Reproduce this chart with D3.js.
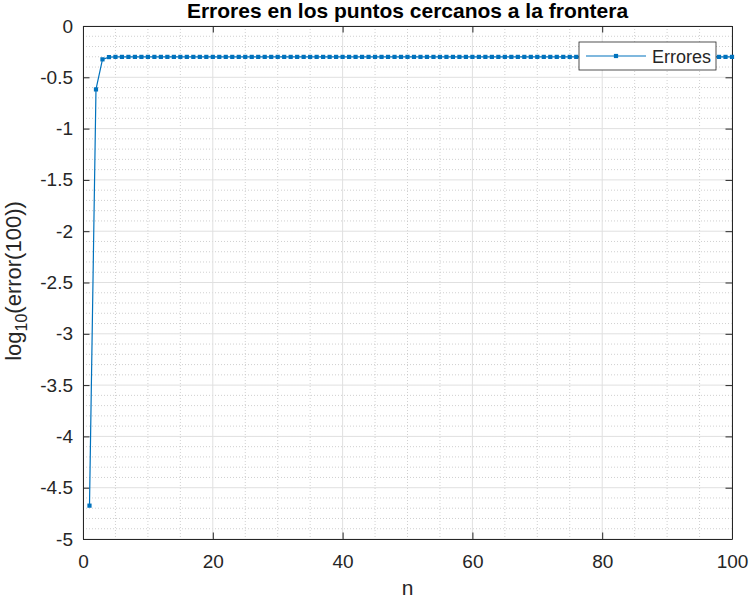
<!DOCTYPE html>
<html>
<head>
<meta charset="utf-8">
<script src="https://cdn.jsdelivr.net/npm/d3@7"></script>
<style>
  body { margin: 0; background: #fff; }
  text { font-family: "Liberation Sans", Arial, Helvetica, sans-serif; fill: #262626; }
</style>
</head>
<body>
<div id="chart"></div>
<script>
const width = 751, height = 599;
const margin = { top: 26, right: 19, bottom: 60, left: 83 };
const innerWidth = width - margin.left - margin.right;
const innerHeight = height - margin.top - margin.bottom;

// values
const nValues = d3.range(1, 101);
const firstErrors = [-4.675, -0.618, -0.325, -0.303];
const plateauValue = -0.301;
const errors = nValues.map((n, i) => i < firstErrors.length ? firstErrors[i] : plateauValue);
const xTicks = [0, 20, 40, 60, 80, 100];
const yTicks = [-5, -4.5, -4, -3.5, -3, -2.5, -2, -1.5, -1, -0.5, 0];
const xMinorTicks = d3.range(0, 101, 5);
const yMinorTicks = d3.range(-50, 1, 1).map(d => d / 10);

const data = nValues.map((n, i) => ({ n: n, err: errors[i] }));
const color = "#0072BD";
const axisColor = "#262626";

const svg = d3.select("#chart").append("svg")
    .attr("width", width)
    .attr("height", height);

const innerChart = svg.append("g")
    .attr("transform", `translate(${margin.left}, ${margin.top})`);

const xScale = d3.scaleLinear().domain([0, 100]).range([0, innerWidth]);
const yScale = d3.scaleLinear().domain([-5, 0]).range([innerHeight, 0]);

// minor grid (dotted)
innerChart.selectAll(".xminor")
    .data(xMinorTicks.filter(d => !xTicks.includes(d)))
    .join("line")
        .attr("x1", d => xScale(d)).attr("x2", d => xScale(d))
        .attr("y1", 0).attr("y2", innerHeight)
        .attr("stroke", "#c4c4c4").attr("stroke-width", 0.8)
        .attr("stroke-dasharray", "1,2");
innerChart.selectAll(".yminor")
    .data(yMinorTicks.filter(d => !yTicks.some(t => Math.abs(t - d) < 1e-9)))
    .join("line")
        .attr("y1", d => yScale(d)).attr("y2", d => yScale(d))
        .attr("x1", 0).attr("x2", innerWidth)
        .attr("stroke", "#c4c4c4").attr("stroke-width", 0.8)
        .attr("stroke-dasharray", "1,2");

// major grid
innerChart.selectAll(".xgrid")
    .data(xTicks)
    .join("line")
        .attr("x1", d => xScale(d)).attr("x2", d => xScale(d))
        .attr("y1", 0).attr("y2", innerHeight)
        .attr("stroke", "#e0e0e0").attr("stroke-width", 1);
innerChart.selectAll(".ygrid")
    .data(yTicks)
    .join("line")
        .attr("y1", d => yScale(d)).attr("y2", d => yScale(d))
        .attr("x1", 0).attr("x2", innerWidth)
        .attr("stroke", "#e0e0e0").attr("stroke-width", 1);

// axes (ticks inside, box on)
const tickLen = 6.5;
const styleAxis = g => {
    g.select(".domain").attr("stroke", axisColor).attr("stroke-width", 1);
    g.selectAll(".tick line").attr("stroke", axisColor);
    g.selectAll(".tick text").attr("fill", axisColor)
        .style("font-size", "19px")
        .style("font-family", "'Liberation Sans', Arial, sans-serif");
};

innerChart.append("g")
    .attr("transform", `translate(0, ${innerHeight})`)
    .call(d3.axisBottom(xScale).tickValues(xTicks).tickSize(-tickLen).tickSizeOuter(0).tickPadding(15.5))
    .call(styleAxis);
innerChart.append("g")
    .call(d3.axisTop(xScale).tickValues(xTicks).tickSize(-tickLen).tickSizeOuter(0).tickFormat(""))
    .call(styleAxis);
innerChart.append("g")
    .call(d3.axisLeft(yScale).tickValues(yTicks).tickSize(-tickLen).tickSizeOuter(0).tickPadding(10)
        .tickFormat(d => d === 0 ? "0" : String(d)))
    .call(styleAxis);
innerChart.append("g")
    .attr("transform", `translate(${innerWidth}, 0)`)
    .call(d3.axisRight(yScale).tickValues(yTicks).tickSize(-tickLen).tickSizeOuter(0).tickFormat(""))
    .call(styleAxis);

// data line + markers
const lineGenerator = d3.line()
    .x(d => xScale(d.n))
    .y(d => yScale(d.err));

innerChart.append("path")
    .datum(data)
    .attr("d", lineGenerator)
    .attr("fill", "none")
    .attr("stroke", color)
    .attr("stroke-width", 1.2);

const ms = 4.2;
innerChart.selectAll(".pt")
    .data(data)
    .join("rect")
        .attr("class", "pt")
        .attr("x", d => xScale(d.n) - ms / 2)
        .attr("y", d => yScale(d.err) - ms / 2)
        .attr("width", ms).attr("height", ms)
        .attr("fill", color);

// title
svg.append("text")
    .attr("x", margin.left + innerWidth / 2)
    .attr("y", 18)
    .attr("text-anchor", "middle")
    .style("font-size", "21px")
    .style("font-weight", "bold")
    .style("fill", "#000")
    .text("Errores en los puntos cercanos a la frontera");

// axis labels
svg.append("text")
    .attr("x", margin.left + innerWidth / 2)
    .attr("y", 595)
    .attr("text-anchor", "middle")
    .style("font-size", "21px")
    .text("n");

const yLabel = svg.append("text")
    .attr("transform", `translate(21, ${281}) rotate(-90)`)
    .attr("text-anchor", "middle")
    .style("font-size", "22px");
yLabel.append("tspan").text("log");
yLabel.append("tspan").attr("dy", 6).style("font-size", "16px").text("10");
yLabel.append("tspan").attr("dy", -6).text("(error(100))");

// legend
const legend = svg.append("g").attr("transform", "translate(579, 42)");
legend.append("rect")
    .attr("width", 137).attr("height", 28)
    .attr("fill", "#fff")
    .attr("stroke", axisColor).attr("stroke-width", 0.8);
legend.append("line")
    .attr("x1", 7).attr("x2", 67).attr("y1", 14).attr("y2", 14)
    .attr("stroke", color).attr("stroke-width", 1.2);
legend.append("rect")
    .attr("x", 37 - ms / 2).attr("y", 14 - ms / 2)
    .attr("width", ms).attr("height", ms)
    .attr("fill", color);
legend.append("text")
    .attr("x", 73).attr("y", 21)
    .style("font-size", "18px")
    .text("Errores");
</script>
</body>
</html>
